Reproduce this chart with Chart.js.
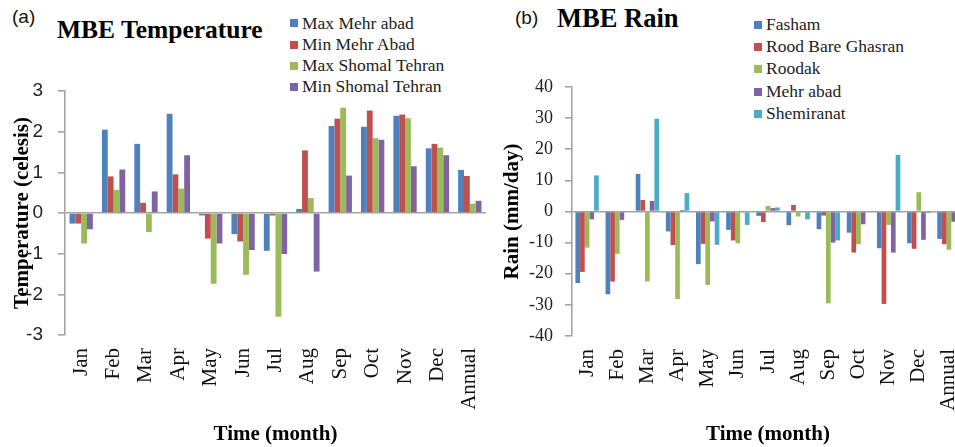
<!DOCTYPE html>
<html>
<head>
<meta charset="utf-8">
<script src="https://cdn.jsdelivr.net/npm/chart.js@4/dist/chart.umd.min.js"></script>
<style>
  html, body { margin: 0; padding: 0; background: #fff; overflow: hidden; width: 955px; height: 447px; }
  .wrap { position: relative; width: 955px; height: 447px; overflow: hidden; }
  canvas { position: absolute; top: 0; }
  .tag { position: absolute; font-family: 'Liberation Sans', Arial, sans-serif; font-size: 19px; line-height: 1; color: #111; }
  .title { position: absolute; font-family: 'Liberation Serif', 'Times New Roman', serif; font-weight: bold; line-height: 1; color: #000; }
  .legend { position: absolute; font-family: 'Liberation Serif', 'Times New Roman', serif; font-size: 17.5px; color: #222; }
  .legend div { white-space: nowrap; }
  .legend span.sq { display: inline-block; width: 8px; height: 8px; margin-right: 4px; vertical-align: middle; position: relative; top: -1px; }
</style>
</head>
<body>
<div class="wrap">
  <div class="tag" style="left:12px; top:7px;">(a)</div>
  <div class="title" style="left:57px; top:17px; font-size:25.5px;">MBE Temperature</div>
  <div class="legend" id="legendTemp" style="left:290px; top:12.5px;"></div>
  <canvas id="chartTemp" width="490" height="447" style="left:0;"></canvas>

  <div class="tag" style="left:515px; top:8px;">(b)</div>
  <div class="title" style="left:557px; top:5px; font-size:26.5px;">MBE Rain</div>
  <div class="legend" id="legendRain" style="left:754px; top:13px;"></div>
  <canvas id="chartRain" width="466" height="447" style="left:500px;"></canvas>
</div>
<script>
// Категории (месяцы)
const months = ['Jan', 'Feb', 'Mar', 'Apr', 'May', 'Jun', 'Jul', 'Aug', 'Sep', 'Oct', 'Nov', 'Dec', 'Annual'];

// (a) MBE Temperature
const tempNames = ['Max Mehr abad', 'Min Mehr Abad', 'Max Shomal Tehran', 'Min Shomal Tehran'];
const maxMehrAbad = [-0.26, 2.05, 1.70, 2.44, -0.06, -0.52, -0.93, 0.10, 2.14, 2.12, 2.39, 1.59, 1.06];
const minMehrAbad = [-0.26, 0.90, 0.25, 0.95, -0.63, -0.70, -0.06, 1.54, 2.32, 2.52, 2.42, 1.70, 0.91];
const maxShomalTehran = [-0.75, 0.57, -0.47, 0.60, -1.74, -1.52, -2.55, 0.37, 2.59, 1.84, 2.33, 1.61, 0.23];
const minShomalTehran = [-0.40, 1.07, 0.53, 1.42, -0.75, -0.91, -1.01, -1.44, 0.92, 1.80, 1.15, 1.42, 0.30];

// (b) MBE Rain
const rainNames = ['Fasham', 'Rood Bare Ghasran', 'Roodak', 'Mehr abad', 'Shemiranat'];
const fasham = [-23.0, -26.6, 12.1, -6.4, -16.9, -5.9, -1.4, -4.4, -5.7, -6.8, -11.8, -10.2, -8.8];
const roodBareGhasran = [-19.4, -22.5, 3.7, -10.8, -10.4, -9.3, -3.4, 2.1, -1.3, -13.2, -29.7, -12.0, -10.5];
const roodak = [-11.6, -13.6, -22.5, -28.1, -23.6, -10.2, 1.8, -1.6, -29.5, -10.5, -4.3, 6.2, -12.3];
const mehrAbad = [-2.5, -2.7, 3.4, 0.5, -3.2, -0.3, 1.1, -0.3, -10.0, -4.1, -13.2, -9.1, -3.3];
const shemiranat = [11.6, 0, 29.8, 5.9, -10.7, -4.3, 1.3, -2.5, -9.3, 0, 18.2, -0.5, -2.0];

const colors = ['#4F81BD', '#C0504D', '#9BBB59', '#8064A2', '#4BACC6'];

const SERIF = "'Liberation Serif', 'Times New Roman', serif";
const SANS = "'Liberation Sans', Arial, sans-serif";
const AXIS_GRAY = '#a3a3a3';

// Легенда в HTML
function createLegend(legendId, names, rowHeight) {
  const box = document.getElementById(legendId);
  box.innerHTML = '';
  names.forEach((name, i) => {
    const row = document.createElement('div');
    row.style.height = rowHeight + 'px';
    row.style.lineHeight = rowHeight + 'px';
    const sq = document.createElement('span');
    sq.className = 'sq';
    sq.style.backgroundColor = colors[i];
    row.appendChild(sq);
    row.appendChild(document.createTextNode(name));
    box.appendChild(row);
  });
}

function createBarChart(canvasId, seriesNames, seriesData, opts) {
  const ctx = document.getElementById(canvasId).getContext('2d');
  return new Chart(ctx, {
    type: 'bar',
    data: {
      labels: months,
      datasets: seriesData.map((data, i) => ({
        label: seriesNames[i],
        data: data,
        backgroundColor: colors[i],
        borderWidth: 0,
        barPercentage: 1,
        categoryPercentage: opts.catPct,
      })),
    },
    options: {
      responsive: false,
      animation: false,
      devicePixelRatio: 1,
      layout: { padding: { left: 0, right: opts.padRight, top: opts.padTop, bottom: 0 } },
      plugins: {
        legend: { display: false },
        tooltip: { enabled: false },
      },
      scales: {
        x: {
          grid: { display: false, drawTicks: false },
          border: { display: false },
          ticks: {
            autoSkip: false,
            minRotation: 90,
            maxRotation: 90,
            padding: 13,
            color: '#111',
            font: { family: SERIF, size: 21 },
          },
          title: {
            display: true,
            text: 'Time (month)',
            color: '#000',
            padding: { top: 0, bottom: 0 },
            font: { family: SERIF, size: 21, weight: 'bold' },
          },
          // фиксируем высоту оси и убираем запас под подписи по краям
          afterFit: (scale) => {
            scale.height = opts.xHeight;
            scale.paddingLeft = 0;
            scale.paddingRight = 0;
          },
        },
        y: {
          min: opts.min,
          max: opts.max,
          grid: {
            color: (c) => (c.tick && c.tick.value === 0 ? AXIS_GRAY : 'rgba(0,0,0,0)'),
            lineWidth: 1.6,
            tickColor: AXIS_GRAY,
            tickLength: 7,
          },
          border: { display: true, color: AXIS_GRAY, width: 1.6 },
          ticks: {
            stepSize: opts.step,
            padding: opts.tickPad,
            color: '#222',
            font: opts.tickFont,
          },
          title: {
            display: true,
            text: opts.yTitle,
            color: '#000',
            padding: { top: opts.yTitlePad, bottom: 0 },
            font: { family: SERIF, size: 21, weight: 'bold' },
          },
          afterFit: (scale) => { scale.width = opts.yWidth; },
        },
      },
    },
  });
}

createLegend('legendTemp', tempNames, 21.3);
createLegend('legendRain', rainNames, 22.2);

createBarChart('chartTemp', tempNames,
  [maxMehrAbad, minMehrAbad, maxShomalTehran, minShomalTehran], {
    catPct: 0.72, padRight: 4, padTop: 91, xHeight: 112,
    min: -3, max: 3, step: 1, tickPad: 15,
    tickFont: { family: SANS, size: 19 },
    yTitle: 'Temperature (celesis)', yTitlePad: 10, yWidth: 65,
  });

createBarChart('chartRain', rainNames,
  [fasham, roodBareGhasran, roodak, mehrAbad, shemiranat], {
    catPct: 0.775, padRight: 2, padTop: 87, xHeight: 111,
    min: -40, max: 40, step: 10, tickPad: 12,
    tickFont: { family: SERIF, size: 18 },
    yTitle: 'Rain (mm/day)', yTitlePad: 0, yWidth: 72,
  });
</script>
</body>
</html>
